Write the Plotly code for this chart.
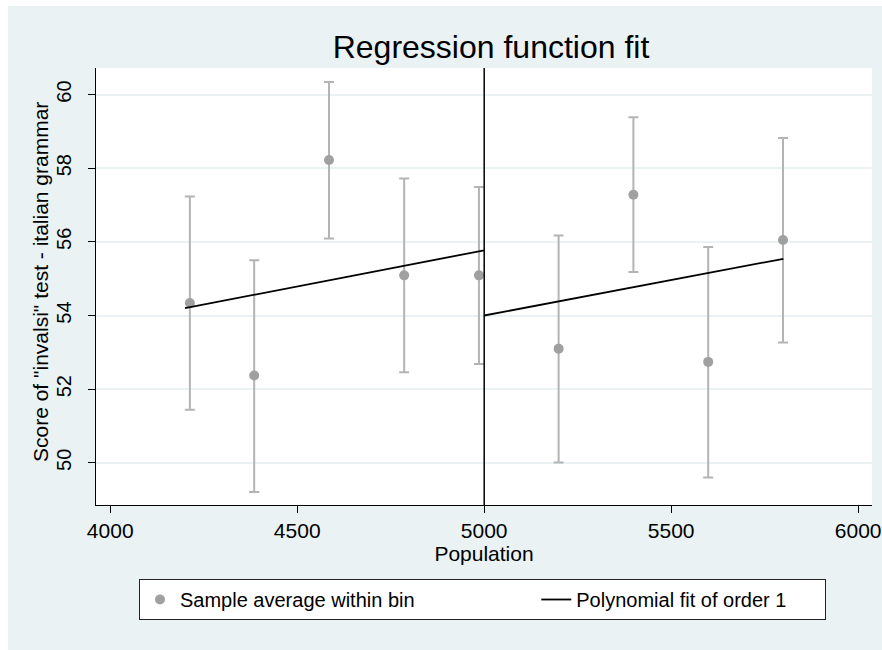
import plotly.graph_objects as go

# ---- data ----
bin_x = [4213, 4385, 4585, 4786, 4986, 5199, 5399, 5599, 5799]
bin_mean = [54.34, 52.37, 58.22, 55.09, 55.09, 53.10, 57.28, 52.74, 56.05]
ci_low = [51.44, 49.21, 56.09, 52.46, 52.68, 50.01, 55.18, 49.60, 53.27]
ci_high = [57.23, 55.50, 60.34, 57.72, 57.49, 56.17, 59.38, 55.86, 58.82]

fit_left_x = [4200, 5000]
fit_left_y = [54.20, 55.77]
fit_right_x = [5000, 5800]
fit_right_y = [54.00, 55.54]

cutoff = 5000
x_ticks = [4000, 4500, 5000, 5500, 6000]
y_ticks = [50, 52, 54, 56, 58, 60]

title_text = "Regression function fit"
x_title = "Population"
y_title = 'Score of "invalsi" test - italian grammar'
legend_names = ["Sample average within bin", "Polynomial fit of order 1"]

FONT = "Liberation Sans, Arial, sans-serif"
BG = "#EAF2F3"

err_plus = [h - m for h, m in zip(ci_high, bin_mean)]
err_minus = [m - l for m, l in zip(bin_mean, ci_low)]

NBSP = "\u00a0"

fig = go.Figure()
fig.add_trace(go.Scatter(
    x=bin_x, y=bin_mean, mode="markers", name=legend_names[0] + NBSP * 21,
    marker=dict(color="#A0A0A0", size=10),
    error_y=dict(type="data", array=err_plus, arrayminus=err_minus,
                 color="#B4B4B4", thickness=2, width=5),
))
fig.add_trace(go.Scatter(
    x=fit_left_x, y=fit_left_y, mode="lines", name=legend_names[1] + NBSP * 6,
    line=dict(color="black", width=1.8),
))
fig.add_trace(go.Scatter(
    x=fit_right_x, y=fit_right_y, mode="lines", name=legend_names[1],
    line=dict(color="black", width=1.8), showlegend=False,
))

fig.add_vline(x=cutoff, line=dict(color="black", width=1.5))

L, R, T, B = 96, 10, 68, 145
W, H = 882, 650
pw, ph = W - L - R, H - T - B
def px(xp):
    return (xp - L) / pw
def py(yp):
    return (H - B - yp) / ph

# thin white strips along the left and top edges, as in the reference
fig.add_shape(type="rect", xref="paper", yref="paper", layer="below",
              x0=px(-2), x1=px(8), y0=py(H + 2), y1=py(-2),
              fillcolor="white", line=dict(width=0))
fig.add_shape(type="rect", xref="paper", yref="paper", layer="below",
              x0=px(-2), x1=px(W + 2), y0=py(6), y1=py(-2),
              fillcolor="white", line=dict(width=0))

fig.add_annotation(
    text=y_title, textangle=-90, xref="paper", yref="paper",
    x=px(40), y=py(282), xanchor="center", yanchor="middle",
    showarrow=False, font=dict(size=21, family=FONT, color="black"),
)

fig.update_layout(
    width=W, height=H,
    margin=dict(l=L, r=R, t=T, b=B, autoexpand=False),
    paper_bgcolor=BG, plot_bgcolor="white",
    font=dict(family=FONT, color="black", size=21),
    title=dict(text=title_text, font=dict(size=32, family=FONT, color="black"),
               xref="container", x=491 / W, xanchor="center",
               yref="container", y=1 - 47 / H, yanchor="middle"),
    showlegend=True,
    legend=dict(orientation="h", x=px(139), xanchor="left",
                y=py(579), yanchor="top",
                bgcolor="white", bordercolor="#222222", borderwidth=1,
                font=dict(size=20, family=FONT, color="black"),
                itemwidth=30),
)

fig.update_xaxes(
    range=[3962, 6037], tickvals=x_ticks, ticktext=[str(v) for v in x_ticks],
    showgrid=False, zeroline=False, automargin=False,
    showline=True, linecolor="black", linewidth=1,
    ticks="outside", ticklen=7, tickcolor="black", tickwidth=1,
    tickfont=dict(size=21),
    title=dict(text=x_title, font=dict(size=21), standoff=0),
)
fig.update_yaxes(
    range=[48.855, 60.72], tickvals=y_ticks, ticktext=[str(v) for v in y_ticks],
    showgrid=True, gridcolor=BG, gridwidth=1.5, zeroline=False, automargin=False,
    showline=True, linecolor="black", linewidth=1,
    ticks="outside", ticklen=7, tickcolor="black", tickwidth=1,
    tickangle=-90, tickfont=dict(size=20), ticklabelstandoff=9,
)

fig.write_html(
    "out.html",
    config={"displayModeBar": False},
    post_script="document.body.style.margin='0';"
                "document.documentElement.style.overflow='hidden';",
)
